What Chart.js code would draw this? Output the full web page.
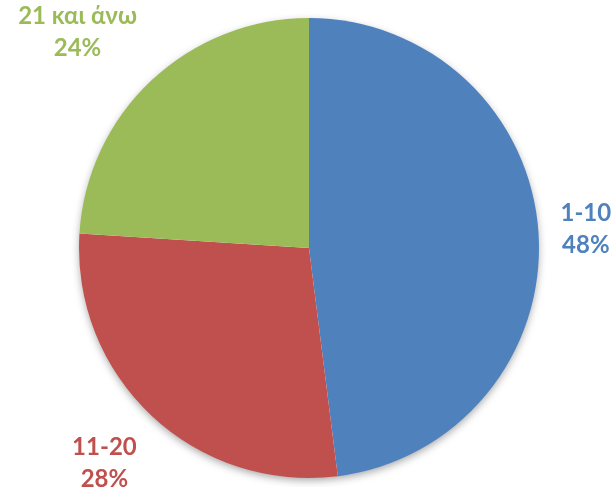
<!DOCTYPE html>
<html lang="el">
<head>
    <meta charset="UTF-8">
    <title>Κατανομή</title>
    <script src="https://cdn.jsdelivr.net/npm/chart.js"></script>
    <style>
        html, body { margin: 0; padding: 0; background: #fff; }
        #wrap { width: 611px; height: 487px; position: relative; }
    </style>
</head>
<body>
    <div id="wrap"><canvas id="pieChart"></canvas></div>
    <script>
        const categories = ['1-10', '11-20', '21 και άνω'];
        const values = [48, 28, 24];
        const colors = ['#4F81BD', '#C0504D', '#9BBB59'];

        const total = values.reduce((a, b) => a + b, 0);

        // soft shadow under the whole pie
        const pieShadow = {
            id: 'pieShadow',
            beforeDatasetsDraw(chart) {
                const arc = chart.getDatasetMeta(0).data[0];
                if (!arc) return;
                const ctx = chart.ctx;
                ctx.save();
                ctx.shadowColor = 'rgba(0,0,0,0.38)';
                ctx.shadowBlur = 9;
                ctx.shadowOffsetY = 3;
                ctx.fillStyle = '#ffffff';
                ctx.beginPath();
                ctx.arc(arc.x, arc.y, arc.outerRadius - 1, 0, Math.PI * 2);
                ctx.fill();
                ctx.restore();
            }
        };

        // category + percent labels outside each slice
        const outsideLabels = {
            id: 'outsideLabels',
            afterDatasetsDraw(chart) {
                const ctx = chart.ctx;
                const lineH = 32;
                ctx.save();
                ctx.font = 'bold 24px Lato, "Open Sans", sans-serif';
                ctx.textAlign = 'center';
                ctx.textBaseline = 'middle';
                chart.getDatasetMeta(0).data.forEach((arc, i) => {
                    const mid = (arc.startAngle + arc.endAngle) / 2;
                    const ux = Math.cos(mid), uy = Math.sin(mid);
                    const lines = [categories[i], Math.round(values[i] / total * 100) + '%'];
                    const w = Math.max(...lines.map(t => ctx.measureText(t).width));
                    const h = lineH * lines.length;
                    const r = arc.outerRadius + 22;
                    const ax = arc.x + ux * r, ay = arc.y + uy * r;
                    const k = v => Math.max(-1, Math.min(1, v * 1.45));
                    const cx = ax + k(ux) * w / 2;
                    const cy = ay + k(uy) * h / 2;
                    ctx.fillStyle = colors[i];
                    lines.forEach((t, j) => {
                        ctx.fillText(t, cx, cy - h / 2 + lineH * (j + 0.5));
                    });
                });
                ctx.restore();
            }
        };

        new Chart(document.getElementById('pieChart'), {
            type: 'pie',
            data: {
                labels: categories,
                datasets: [{
                    data: values,
                    backgroundColor: colors,
                    borderWidth: 0
                }]
            },
            options: {
                responsive: true,
                maintainAspectRatio: false,
                animation: false,
                layout: { padding: { top: 18, bottom: 9, left: 20, right: 13 } },
                plugins: {
                    legend: { display: false },
                    tooltip: { enabled: false }
                }
            },
            plugins: [pieShadow, outsideLabels]
        });
    </script>
</body>
</html>
